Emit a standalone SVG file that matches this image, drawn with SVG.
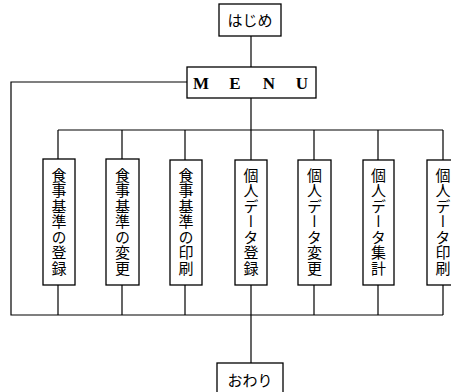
<svg xmlns="http://www.w3.org/2000/svg" width="451" height="392" viewBox="0 0 451 392">
<style>
.box{fill:#fff;stroke:#000;stroke-width:1.3}
.ln{fill:none;stroke:#000;stroke-width:1.2}
.jp{font-family:"Noto Sans CJK JP","Noto Sans",sans-serif;font-size:15px;fill:#000}
.v{writing-mode:vertical-rl;letter-spacing:0.5px}
.menu{font-family:"Liberation Serif",serif;font-size:17px;font-weight:bold;fill:#000}
</style>
<rect width="451" height="392" fill="#fff"/>
<g id="connectors">
<path class="ln" d="M251 36V67"/>
<path class="ln" d="M251 98V130"/>
<path class="ln" d="M58 130H443"/>
<path class="ln" d="M58 130V159M122 130V159M185 130V160M251 130V160M314 130V160M378 130V160M443 130V160"/>
<path class="ln" d="M187 82H11V315H443"/>
<path class="ln" d="M58 285V315M122 285V315M185 285V315M251 285V315M314 285V315M378 285V315M443 285V315"/>
<path class="ln" d="M251 315V363"/>
</g>
<g id="start"><rect class="box" x="219" y="4" width="62" height="32"/><text class="jp" x="250" y="26" text-anchor="middle" font-size="16">はじめ</text></g>
<g id="menu"><rect class="box" x="187" y="67" width="129" height="31"/>
<text class="menu" x="201" y="89" text-anchor="middle">M</text><text class="menu" x="235" y="89" text-anchor="middle">E</text><text class="menu" x="269" y="89" text-anchor="middle">N</text><text class="menu" x="302" y="89" text-anchor="middle">U</text></g>
<g id="n1"><rect class="box" x="43" y="159" width="32" height="126"/><text class="jp v" x="59" y="222" text-anchor="middle">食事基準の登録</text></g>
<g id="n2"><rect class="box" x="106" y="159" width="33" height="126"/><text class="jp v" x="122.5" y="222" text-anchor="middle">食事基準の変更</text></g>
<g id="n3"><rect class="box" x="170" y="160" width="32" height="125"/><text class="jp v" x="186" y="222" text-anchor="middle">食事基準の印刷</text></g>
<g id="n4"><rect class="box" x="235" y="160" width="32" height="125"/><text class="jp v" x="251" y="222" text-anchor="middle">個人データ登録</text></g>
<g id="n5"><rect class="box" x="298" y="160" width="33" height="125"/><text class="jp v" x="314.5" y="222" text-anchor="middle">個人データ変更</text></g>
<g id="n6"><rect class="box" x="363" y="160" width="31" height="125"/><text class="jp v" x="378.5" y="222" text-anchor="middle">個人データ集計</text></g>
<g id="n7"><rect class="box" x="427" y="160" width="32" height="125"/><text class="jp v" x="443" y="222" text-anchor="middle">個人データ印刷</text></g>
<g id="end"><rect class="box" x="217" y="363" width="66" height="34"/><text class="jp" x="250" y="386" text-anchor="middle" font-size="16">おわり</text></g>
</svg>
